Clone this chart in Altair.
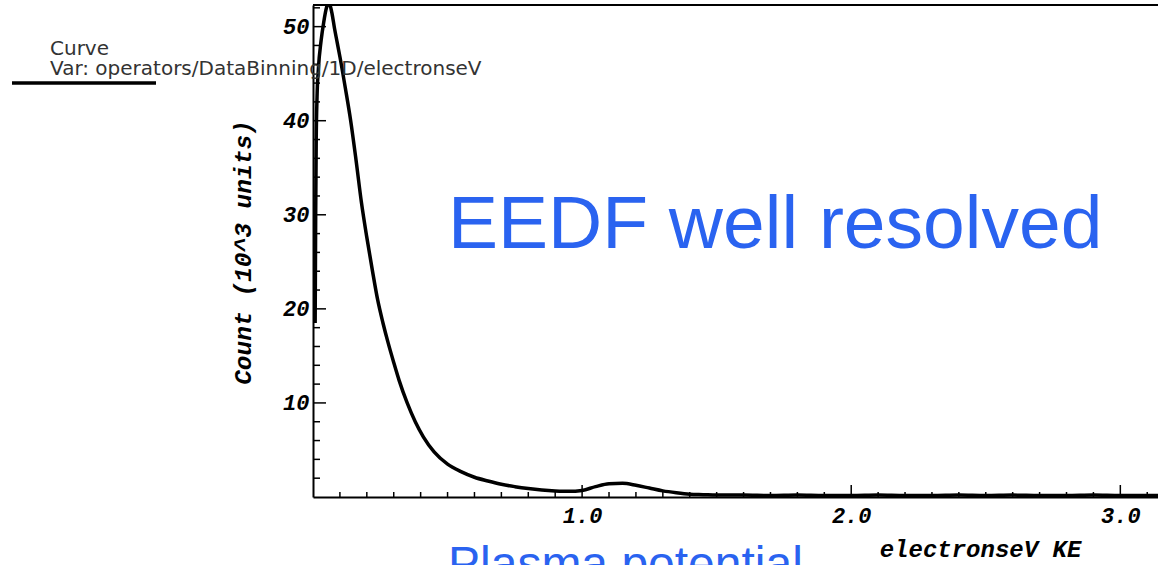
import altair as alt
import pandas as pd

# ---- data ----
energy_ev = [0.008, 0.010, 0.012, 0.015, 0.02, 0.03, 0.04, 0.05, 0.06, 0.07, 0.08, 0.09,
             0.10, 0.12, 0.14, 0.16, 0.18, 0.20, 0.22, 0.24, 0.26, 0.28, 0.30, 0.32,
             0.35, 0.38, 0.41, 0.45, 0.50, 0.55, 0.60, 0.65, 0.70, 0.75, 0.80, 0.85,
             0.90, 0.95, 1.00, 1.05, 1.10, 1.15, 1.20, 1.25, 1.30, 1.35, 1.40, 1.45,
             1.50, 1.60, 1.70, 1.80, 1.90, 2.00, 2.10, 2.20, 2.30, 2.40, 2.50, 2.60,
             2.70, 2.80, 2.90, 3.00, 3.10, 3.15]
count_k = [18.5, 30.0, 38.0, 42.5, 45.5, 48.5, 50.5, 52.0, 52.5, 51.5, 49.8, 48.3,
           46.8, 43.5, 40.0, 35.8, 31.3, 27.6, 24.2, 21.0, 18.5, 16.3, 14.3, 12.4,
           10.0, 8.0, 6.4, 4.8, 3.5, 2.7, 2.1, 1.7, 1.35, 1.1, 0.9, 0.75,
           0.65, 0.6, 0.7, 1.1, 1.4, 1.45, 1.25, 0.95, 0.65, 0.45, 0.3, 0.25,
           0.2, 0.2, 0.15, 0.2, 0.15, 0.15, 0.2, 0.15, 0.15, 0.2, 0.15, 0.2,
           0.15, 0.15, 0.2, 0.15, 0.15, 0.15]

x_major = [1.0, 2.0, 3.0]
y_major = [10, 20, 30, 40, 50]
x_minor = [round(i * 0.1, 1) for i in range(1, 32) if i % 10 != 0]
y_minor = [i for i in range(2, 53, 2) if i % 10 != 0]

legend_title = "Curve"
legend_var = "Var: operators/DataBinning/1D/electronseV"
note_main = "EEDF well resolved"
note_bottom = "Plasma potential"

W, H = 845, 492
XDOM = [0, 3.14]
YDOM = [0, 52.3]
MONO = "Liberation Mono"
BLUE = "#2a63f0"

xs = alt.Scale(domain=XDOM, nice=False, zero=False)
ys = alt.Scale(domain=YDOM, nice=False, zero=False)

xaxis = alt.Axis(
    values=x_major, format=".1f", ticks=False, grid=False,
    domainColor="black", domainWidth=2,
    labelFont=MONO, labelFontSize=22, labelFontWeight="bold", labelFontStyle="italic",
    labelColor="black", labelPadding=8, labelFlush=False,
    title="electronseV KE", titleFont=MONO, titleFontSize=24, titleFontWeight="bold",
    titleFontStyle="italic", titleColor="black", titleX=667, titleY=59,
    titleAlign="center", titleBaseline="alphabetic")
yaxis = alt.Axis(
    values=y_major, ticks=False, grid=False,
    domainColor="black", domainWidth=2,
    labelFont=MONO, labelFontSize=22, labelFontWeight="bold", labelFontStyle="italic",
    labelColor="black", labelPadding=4, labelFlush=False,
    title="Count (10^3 units)", titleFont=MONO, titleFontSize=24.5, titleFontWeight="bold",
    titleFontStyle="italic", titleColor="black", titleX=-70, titleY=247,
    titleAngle=270, titleAlign="center", titleBaseline="middle")

df = pd.DataFrame({"e": energy_ev, "c": count_k})

line = alt.Chart(df).mark_line(color="black", strokeWidth=3.5, clip=True, interpolate="monotone").encode(
    x=alt.X("e:Q", scale=xs, axis=xaxis, title="electronseV KE"),
    y=alt.Y("c:Q", scale=ys, axis=yaxis, title="Count (10^3 units)"),
)

def yticks(vals, length):
    return alt.Chart(pd.DataFrame({"c": vals})).mark_rule(color="black", strokeWidth=1.5).encode(
        y=alt.Y("c:Q", scale=ys, axis=yaxis, title="Count (10^3 units)"),
        x=alt.value(0), x2=alt.value(length))

def xticks(vals, length):
    return alt.Chart(pd.DataFrame({"e": vals})).mark_rule(color="black", strokeWidth=1.5).encode(
        x=alt.X("e:Q", scale=xs, axis=xaxis, title="electronseV KE"),
        y=alt.value(H), y2=alt.value(H - length))

top_border = alt.Chart(pd.DataFrame({"a": [0]})).mark_rule(color="black", strokeWidth=2).encode(
    y=alt.value(0), x=alt.value(0), x2=alt.value(W))

def label(text, x, y, size, color, font="DejaVu Sans"):
    return alt.Chart(pd.DataFrame({"t": [text]})).mark_text(
        align="left", baseline="alphabetic", font=font, fontSize=size, color=color
    ).encode(text="t:N", x=alt.value(x - 313), y=alt.value(y - 5))

legend_line = alt.Chart(pd.DataFrame({"a": [0]})).mark_rule(color="black", strokeWidth=3.5).encode(
    y=alt.value(83 - 5), x=alt.value(12 - 313), x2=alt.value(156 - 313))

chart = alt.layer(
    line,
    yticks(y_major, 13), yticks(y_minor, 7),
    xticks(x_major, 12), xticks(x_minor, 5),
    top_border,
    label(legend_title, 50, 55, 20, "#333333"),
    label(legend_var, 50, 75, 20, "#333333"),
    legend_line,
    label(note_main, 448, 248, 75, BLUE, "Liberation Sans"),
    label(note_bottom, 448, 580, 48, BLUE, "Liberation Sans"),
).properties(
    width=W, height=H, background="white",
    autosize=alt.AutoSizeParams(type="none"),
    padding={"left": 313, "top": 5, "right": 0, "bottom": 68},
).configure_view(stroke=None)

chart.save("out.html", embed_options={"renderer": "svg", "actions": False})
